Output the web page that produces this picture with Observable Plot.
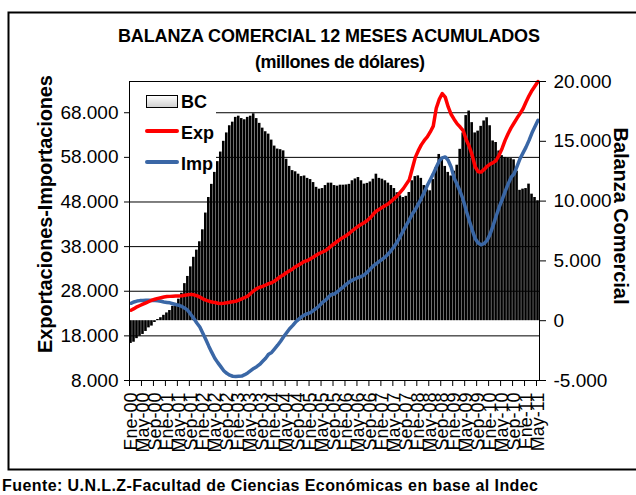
<!DOCTYPE html>
<html><head><meta charset="utf-8">
<script src="https://cdn.jsdelivr.net/npm/d3@7"></script>
<script src="https://cdn.jsdelivr.net/npm/@observablehq/plot@0.6"></script>
<style>
html,body{margin:0;padding:0;background:#fff;}
#wrap{position:relative;width:636px;height:495px;overflow:hidden;font-family:"Liberation Sans",Arial,sans-serif;}
#chart{position:absolute;left:0;top:0;}
#overlay{position:absolute;left:0;top:0;}
</style></head><body>
<div id="wrap"><div id="chart"></div><svg id="overlay" width="636" height="495"></svg></div>
<script>
// ---- data (monthly, Ene-00 .. May-11) ----
const tickLabels = ["Ene-00","May-00","Sep-00","Ene-01","May-01","Sep-01","Ene-02","May-02","Sep-02","Ene-03","May-03","Sep-03","Ene-04","May-04","Sep-04","Ene-05","May-05","Sep-05","Ene-06","May-06","Sep-06","Ene-07","May-07","Sep-07","Ene-08","May-08","Sep-08","Ene-09","May-09","Sep-09","Ene-10","May-10","Sep-10","Ene-11","May-11"];
const BC = [
 -1900,-1800,-1500,-1300,-1150,-900,-600,-450,-150,100,250,450,
 650,850,1200,1450,1800,2300,3100,3700,4500,5300,5900,6600,
 7600,9000,10300,11400,12400,13300,14100,15000,15700,16300,16600,17000,
 17100,16900,16800,17000,17100,17300,16900,16500,16100,15800,15600,15100,
 14600,14350,14300,14200,13500,12900,12550,12450,12250,12050,12100,11900,
 11800,11550,11150,11000,11050,11300,11500,11500,11300,11250,11330,11330,
 11350,11400,11700,11850,11970,11700,11420,11480,11600,11830,12250,11900,
 11830,11700,11500,11300,11050,10700,10440,10300,10400,10720,11700,12050,
 12110,11900,11300,10950,10860,11800,12800,13900,13600,12900,12400,12100,
 12500,13000,14330,15700,17150,17530,16560,15700,15850,16250,16700,16970,
 16300,15030,14900,14190,13800,13650,13580,13550,13450,12500,10900,11000,
 11050,11420,10580,10300,10030];
const Exp = [
 23750,24100,24500,24800,25100,25400,25700,26000,26200,26400,26550,26700,
 26800,26850,26900,26950,26950,27000,27100,27200,27300,27200,27000,26700,
 26300,26000,25800,25600,25500,25300,25250,25300,25400,25550,25650,25750,
 26000,26300,26600,26900,27500,28100,28600,28900,29100,29400,29700,29900,
 30300,30800,31300,31700,32200,32600,33000,33500,33900,34300,34700,34900,
 35300,35700,36100,36500,36800,37100,37600,38200,38700,39200,39700,40100,
 40500,41000,41600,42100,42600,43000,43400,43900,44500,45300,46000,46400,
 46800,47200,47600,48200,48800,49400,50200,51000,52000,53000,55500,58000,
 59500,60800,61800,62600,63700,65000,69000,71000,72300,71500,69300,67600,
 66500,65500,64800,64000,62000,60500,58500,55900,54800,54700,55300,56000,
 56500,56800,57300,58500,60000,61800,63300,64600,65700,66800,67800,68900,
 70400,71800,73000,74000,75000];
const Imp = [
 25300,25600,25800,25900,25950,26000,26000,25950,25900,25850,25750,25600,
 25500,25400,25200,25000,24850,24600,24200,23700,22800,21900,20900,20000,
 18600,17200,15700,14300,13000,12000,11100,10200,9600,9200,8950,8900,
 8950,9000,9300,9700,10200,10700,11100,11600,12300,13000,13900,14300,
 15100,15900,16800,17800,18700,19600,20300,21100,21700,22300,22700,23000,
 23200,23700,24200,24800,25500,26000,26700,27300,27400,27900,28500,29000,
 29600,30100,30500,30800,31100,31300,31700,32300,33000,33700,34200,34700,
 35200,35700,36400,37200,38100,39100,40300,41600,42800,44000,45300,46300,
 47500,48800,50200,51700,53000,54300,55800,57200,57900,58100,57300,55800,
 53300,51900,50300,48500,46100,43900,41800,39800,38800,38400,38700,39400,
 40800,42700,44800,46800,48500,50300,52000,53500,54300,56000,57700,59000,
 60300,61800,63500,64900,66300];
const leftTicks = [8000,18000,28000,38000,48000,58000,68000];
const rightTicks = [-5000,0,5000,10000,15000,20000];
const leftDomain = [8000, 75000];
const rightDomain = [-5000, 20000];

// ---- build ----
const rows = BC.map((v, i) => ({i, bc: v, exp: Exp[i], imp: Imp[i]}));
const toRight = v => (v - leftDomain[0]) / (leftDomain[1] - leftDomain[0]) * (rightDomain[1] - rightDomain[0]) + rightDomain[0];
const toLeft = v => (v - rightDomain[0]) / (rightDomain[1] - rightDomain[0]) * (leftDomain[1] - leftDomain[0]) + leftDomain[0];
const fmt = d3.formatLocale({decimal: ",", thousands: ".", grouping: [3], currency: ["$", ""], minus: "-"}).format(",d");
const tickPos = tickLabels.map((_, k) => k * 4);
const labelPos = tickLabels.map((_, k) => k * 4 + 0.5);
const RED = "#ff0000", BLUE = "#3a67a6";

const chart = Plot.plot({
  width: 636, height: 495,
  marginLeft: 129, marginRight: 97, marginTop: 81, marginBottom: 115,
  style: {fontFamily: "Liberation Sans, Arial, sans-serif", fontSize: "19px", color: "#000", background: "transparent"},
  x: {type: "linear", domain: [0, rows.length]},
  y: {domain: rightDomain},
  marks: [
    Plot.ruleY(leftTicks.map(toRight), {stroke: "#000", strokeWidth: 1}),
    Plot.rectY(rows, {x1: "i", x2: d => d.i + 1, y1: 0, y2: "bc", fill: "#000", insetLeft: 0.2, insetRight: 0.2}),
    Plot.line(rows, {x: d => d.i + 0.5, y: d => toRight(d.imp), stroke: BLUE, strokeWidth: 3.5}),
    Plot.line(rows, {x: d => d.i + 0.5, y: d => toRight(d.exp), stroke: RED, strokeWidth: 3.5}),
    Plot.frame({stroke: "#000"}),
    Plot.axisY(leftTicks.map(toRight), {anchor: "left", tickSize: 5, tickPadding: 6, tickFormat: d => fmt(Math.round(toLeft(d))), label: null}),
    Plot.axisY(rightTicks, {anchor: "right", tickSize: 6, tickPadding: 8, tickFormat: fmt, label: null}),
    Plot.axisX(tickPos, {anchor: "bottom", tickSize: 6, tickFormat: () => "", label: null}),
    Plot.axisX(labelPos, {anchor: "bottom", tickSize: 0, tickPadding: 12, tickRotate: -90, fontSize: 18, tickFormat: d => tickLabels[Math.round((d - 0.5) / 4)], label: null})
  ]
});
document.getElementById("chart").appendChild(chart);

// ---- overlay: titles, legend, border ----
const ov = d3.select("#overlay");
const defs = ov.append("defs").append("linearGradient").attr("id", "g").attr("x1", 0).attr("y1", 0).attr("x2", 0).attr("y2", 1);
defs.append("stop").attr("offset", 0).attr("stop-color", "#fff");
defs.append("stop").attr("offset", 1).attr("stop-color", "#cfcfcf");
ov.append("rect").attr("x", 8.5).attr("y", 12.5).attr("width", 640).attr("height", 457).attr("fill", "none").attr("stroke", "#000").attr("stroke-width", 2);
ov.append("rect").attr("x", 130).attr("y", 82).attr("width", 86).attr("height", 86).attr("fill", "#fff");
const T = (x, y, s, size, extra) => {
  const t = ov.append("text").attr("x", x).attr("y", y).text(s)
    .attr("font-family", "Liberation Sans, Arial, sans-serif").attr("font-size", size).attr("font-weight", "bold").attr("fill", "#000");
  if (extra) extra(t);
  return t;
};
T(329, 42, "BALANZA COMERCIAL 12 MESES ACUMULADOS", 18, t => t.attr("text-anchor", "middle").attr("textLength", 422).attr("lengthAdjust", "spacing"));
T(340, 68, "(millones de dólares)", 18, t => t.attr("text-anchor", "middle").attr("textLength", 170).attr("lengthAdjust", "spacing"));
T(0, 0, "Exportaciones-Importaciones", 20, t => t.attr("text-anchor", "middle").attr("dy", "0.35em").attr("transform", "translate(45,214) rotate(-90)").attr("textLength", 278).attr("lengthAdjust", "spacing"));
T(0, 0, "Balanza Comercial", 20, t => t.attr("text-anchor", "middle").attr("dy", "0.35em").attr("transform", "translate(621,216) rotate(90)").attr("textLength", 177).attr("lengthAdjust", "spacing"));
T(2, 491, "Fuente: U.N.L.Z-Facultad de Ciencias Económicas en base al Indec", 16, t => t.attr("textLength", 536).attr("lengthAdjust", "spacing"));
// legend
ov.append("rect").attr("x", 146.5).attr("y", 95.5).attr("width", 31).attr("height", 12).attr("fill", "url(#g)").attr("stroke", "#000").attr("stroke-width", 1);
ov.append("line").attr("x1", 147).attr("x2", 177).attr("y1", 131).attr("y2", 131).attr("stroke", RED).attr("stroke-width", 4).attr("stroke-linecap", "round");
ov.append("line").attr("x1", 147).attr("x2", 177).attr("y1", 162).attr("y2", 162).attr("stroke", BLUE).attr("stroke-width", 4).attr("stroke-linecap", "round");
T(181, 108, "BC", 18);
T(181, 139, "Exp", 18);
T(181, 170, "Imp", 18);
</script>
</body></html>
